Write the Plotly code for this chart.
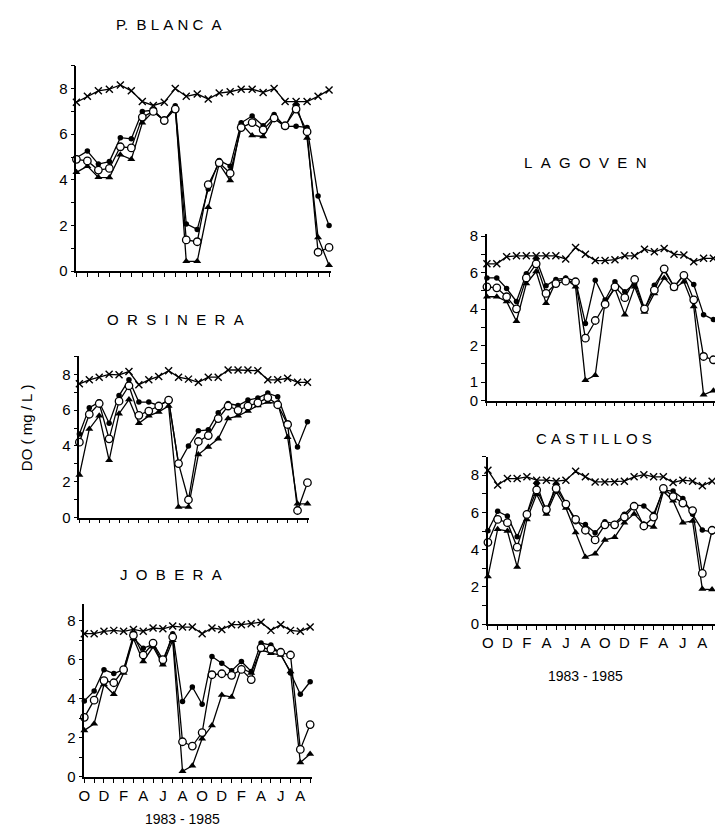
import plotly.graph_objects as go

W, H = 715, 836

# Month index 0..23 = Oct 1983 .. Sep 1985
months = list(range(24))
month_labels = ["O", "", "D", "", "F", "", "A", "", "J", "", "A", "",
                "O", "", "D", "", "F", "", "A", "", "J", "", "A", ""]

# ---------------- P. BLANCA ----------------
pb_cross = [7.4, 7.66, 7.9, 7.97, 8.16, 7.9, 7.43, 7.26, 7.4, 8.0, 7.66, 7.76,
            7.54, 7.8, 7.86, 7.97, 7.97, 7.83, 8.0, 7.43, 7.43, 7.43, 7.66, 7.94]
pb_dot = [4.97, 5.26, 4.69, 4.8, 5.85, 5.8, 7.0, 7.05, 6.6, 7.25, 2.07, 1.83,
          3.6, 4.85, 4.6, 6.5, 6.8, 6.37, 6.86, 6.33, 6.35, 6.29, 3.29, 2.0]
pb_open = [4.9, 4.83, 4.43, 4.5, 5.45, 5.4, 6.75, 7.0, 6.6, 7.1, 1.37, 1.29,
           3.79, 4.75, 4.29, 6.29, 6.51, 6.19, 6.71, 6.37, 7.1, 6.11, 0.83, 1.04]
pb_tri = [4.33, 4.6, 4.11, 4.1, 5.1, 4.9, 6.5, 7.0, 6.6, 7.2, 0.43, 0.43,
          2.8, 4.7, 3.97, 6.47, 5.94, 5.9, 6.69, 6.33, 7.3, 5.83, 1.47, 0.26]

# ---------------- ORSINERA ----------------
or_cross = [7.47, 7.69, 7.84, 8.0, 7.97, 8.15, 7.42, 7.69, 7.88, 8.2, 7.84, 7.73,
            7.55, 7.84, 7.84, 8.24, 8.24, 8.24, 8.2, 7.69, 7.69, 7.78, 7.55, 7.55]
or_dot = [4.67, 6.14, 6.45, 5.27, 6.81, 7.69, 6.45, 6.45, 6.26, 6.56, 3.0, 4.0,
          4.85, 4.9, 5.86, 6.37, 6.26, 6.56, 6.68, 6.95, 6.75, 5.25, 3.95, 5.35]
or_open = [4.21, 5.77, 6.37, 4.4, 6.5, 7.36, 5.71, 5.95, 6.23, 6.56, 3.02, 1.0,
           4.25, 4.58, 5.53, 6.23, 5.99, 6.23, 6.41, 6.7, 6.3, 5.2, 0.4, 1.95]
or_tri = [2.38, 4.95, 5.68, 3.2, 5.8, 6.59, 5.27, 5.68, 5.9, 6.23, 0.59, 0.59,
          3.52, 3.94, 4.4, 5.53, 5.68, 5.95, 6.26, 6.45, 6.37, 4.49, 0.77, 0.77]

# ---------------- JOBERA ----------------
jo_cross = [7.33, 7.33, 7.45, 7.5, 7.45, 7.55, 7.45, 7.62, 7.58, 7.72, 7.67, 7.67,
            7.33, 7.62, 7.55, 7.79, 7.79, 7.84, 7.92, 7.5, 7.79, 7.5, 7.45, 7.67]
jo_dot = [3.89, 4.4, 5.49, 5.29, 5.49, 7.11, 6.58, 6.78, 5.82, 7.33, 3.86, 4.6,
          3.72, 6.16, 5.82, 5.44, 5.91, 5.4, 6.85, 6.75, 6.3, 5.32, 4.23, 4.87]
jo_open = [3.05, 3.93, 4.93, 4.82, 5.49, 7.25, 6.24, 6.85, 6.0, 7.16, 1.8, 1.58,
           2.27, 5.23, 5.28, 5.2, 5.5, 4.98, 6.61, 6.54, 6.38, 6.24, 1.41, 2.68]
jo_tri = [2.38, 2.72, 4.73, 4.23, 5.32, 7.08, 5.91, 6.66, 5.74, 7.0, 0.29, 0.57,
          1.96, 2.63, 4.19, 4.09, 5.57, 5.32, 6.5, 6.33, 6.24, 5.4, 0.74, 1.17]

# ---------------- LAGOVEN (axis as drawn: label "1" sits at the 0 line) ----------------
lg_cross = [6.48, 6.48, 6.87, 6.92, 6.92, 6.92, 6.92, 6.92, 6.75, 7.37, 7.01, 6.66,
            6.66, 6.71, 6.92, 6.92, 7.28, 7.14, 7.32, 7.01, 6.96, 6.6, 6.78, 6.78]
lg_dot = [5.71, 5.71, 5.13, 4.42, 5.94, 6.75, 5.28, 5.63, 5.7, 5.55, 3.22, 5.58,
          4.5, 5.5, 4.95, 5.4, 3.97, 5.31, 6.12, 5.22, 5.89, 5.35, 3.7, 3.43]
lg_open = [5.22, 5.17, 4.68, 4.02, 5.71, 6.48, 4.86, 5.4, 5.53, 5.5, 2.41, 3.38,
           4.27, 5.22, 4.63, 5.63, 4.02, 5.04, 6.21, 5.22, 5.85, 4.51, 1.41, 1.23]
lg_tri = [4.68, 4.68, 4.42, 3.34, 5.4, 6.06, 4.33, 5.5, 5.67, 5.22, 0.11, 0.38,
          4.42, 5.13, 3.7, 5.22, 3.84, 4.86, 5.71, 5.13, 5.5, 4.15, -0.69, -0.46]

# ---------------- CASTILLOS ----------------
ca_cross = [8.26, 7.47, 7.82, 7.82, 7.91, 7.73, 7.73, 7.68, 7.73, 8.21, 7.91, 7.64,
            7.64, 7.64, 7.68, 7.91, 8.03, 7.91, 7.91, 7.61, 7.73, 7.68, 7.43, 7.68]
ca_dot = [5.01, 6.06, 5.8, 4.69, 5.92, 7.56, 5.98, 7.5, 6.5, 5.5, 5.35, 4.9,
          5.5, 5.4, 5.9, 6.4, 6.35, 5.9, 7.2, 7.15, 6.75, 5.9, 5.05, 4.95]
ca_open = [4.39, 5.62, 5.45, 4.13, 5.89, 7.21, 6.15, 7.29, 6.45, 5.62, 5.04, 4.52,
           5.33, 5.33, 5.75, 6.33, 5.27, 5.75, 7.29, 6.85, 6.5, 6.1, 2.72, 5.04]
ca_tri = [2.55, 5.1, 5.0, 3.07, 5.62, 6.98, 5.92, 7.12, 6.24, 4.92, 3.6, 3.78,
          4.52, 4.66, 5.45, 5.92, 5.36, 5.22, 7.12, 6.63, 5.45, 5.54, 1.88, 1.85]

titles = ["P.\u00a0\u00a0B\u00a0L\u00a0A\u00a0N\u00a0C\u00a0\u00a0A",
          "O\u00a0\u00a0R\u00a0\u00a0S\u00a0\u00a0I\u00a0\u00a0N\u00a0\u00a0E\u00a0\u00a0R\u00a0\u00a0A",
          "J\u00a0\u00a0O\u00a0\u00a0B\u00a0\u00a0E\u00a0\u00a0R\u00a0\u00a0A",
          "L\u00a0\u00a0A\u00a0\u00a0G\u00a0\u00a0O\u00a0\u00a0V\u00a0\u00a0E\u00a0\u00a0N",
          "C\u00a0A\u00a0S\u00a0T\u00a0I\u00a0L\u00a0L\u00a0O\u00a0S"]

FONT = "Liberation Sans, Arial, sans-serif"

panels = [
    dict(data=(pb_cross, pb_dot, pb_open, pb_tri), px=(71, 328), py=(59.8, 269), xr=23.2, yr=(0, 9)),
    dict(data=(or_cross, or_dot, or_open, or_tri), px=(74, 306), py=(355.75, 520), xr=23.2, yr=(0, 9)),
    dict(data=(jo_cross, jo_dot, jo_open, jo_tri), px=(79, 308.7), py=(607.9, 784), xr=23.2, yr=(0, 8.85)),
    dict(data=(lg_cross, lg_dot, lg_open, lg_tri), px=(485, 715), py=(231.4, 400.7), xr=23.16, yr=(-1, 8.1)),
    dict(data=(ca_cross, ca_dot, ca_open, ca_tri), px=(486, 715), py=(457.8, 628.3), xr=23.3, yr=(0, 9)),
]
title_pos = [(164, 18), (171, 318), (166, 578), (584, 158), (593, 439)]

fig = go.Figure()
LW = 1.3
styles = [
    dict(symbol="x-thin", size=7, color="black", line=dict(width=1.4, color="black")),
    dict(symbol="triangle-up", size=7, color="black", line=dict(width=0, color="black")),
    dict(symbol="circle", size=5.5, color="black", line=dict(width=0, color="black")),
    dict(symbol="circle", size=7.5, color="white", line=dict(width=1.3, color="black")),
]

layout_axes = {}
for k, p in enumerate(panels):
    n = k + 1
    xa = "x" if n == 1 else f"x{n}"
    ya = "y" if n == 1 else f"y{n}"
    cross, dot, opn, tri = p["data"]
    order = [cross, tri, dot, opn]
    for series, st in zip(order, styles):
        fig.add_trace(go.Scatter(x=months, y=series, mode="lines+markers",
                                 line=dict(color="black", width=LW),
                                 marker=st, xaxis=xa, yaxis=ya,
                                 cliponaxis=False, showlegend=False,
                                 hoverinfo="skip"))
    bottom = n in (3, 5)
    xaxis = dict(domain=[p["px"][0] / W, min(1.0, p["px"][1] / W)],
                 range=[0, p["xr"]], anchor=ya,
                 showline=True, linecolor="black", linewidth=1.5,
                 showgrid=False, zeroline=False,
                 tickmode="array", tickvals=months,
                 ticktext=month_labels if bottom else [""] * 24,
                 ticks="outside", ticklen=4, tickwidth=1.2, tickcolor="black",
                 tickfont=dict(family=FONT, size=15, color="black"),
                 fixedrange=True)
    if n == 4:
        yv = [-1, 0, 1, 2, 3, 4, 5, 6, 7, 8]
        yt = ["0", "1", "", "2", "", "4", "", "6", "", "8"]
    else:
        top = int(p["yr"][1])
        yv = list(range(0, top + 1))
        yt = [str(v) if v % 2 == 0 and v <= 8 else "" for v in yv]
    yaxis = dict(domain=[1 - p["py"][1] / H, 1 - p["py"][0] / H],
                 range=list(p["yr"]), anchor=xa,
                 showline=True, linecolor="black", linewidth=1.5,
                 showgrid=False, zeroline=False,
                 tickmode="array", tickvals=yv, ticktext=yt,
                 ticks="outside", ticklen=4, tickwidth=1.2, tickcolor="black",
                 tickfont=dict(family=FONT, size=15, color="black"),
                 fixedrange=True)
    layout_axes["xaxis" if n == 1 else f"xaxis{n}"] = xaxis
    layout_axes["yaxis" if n == 1 else f"yaxis{n}"] = yaxis

annotations = []
for t, (tx, ty) in zip(titles, title_pos):
    annotations.append(dict(text=t, x=tx / W, y=1 - ty / H, xref="paper", yref="paper",
                            showarrow=False, xanchor="center", yanchor="middle",
                            font=dict(family=FONT, size=15, color="black")))
annotations.append(dict(text="DO\u00a0(\u00a0mg\u00a0/\u00a0L\u00a0)", x=20 / W, y=1 - 428 / H,
                        xref="paper", yref="paper", showarrow=False, textangle=-90,
                        xanchor="center", yanchor="middle",
                        font=dict(family=FONT, size=15, color="black")))
for (tx, ty) in [(178, 827), (584, 681)]:
    annotations.append(dict(text="1983\u00a0-\u00a01985", x=tx / W, y=1 - ty / H,
                            xref="paper", yref="paper", showarrow=False,
                            xanchor="center", yanchor="middle",
                            font=dict(family=FONT, size=14, color="black")))

fig.update_layout(width=W, height=H, margin=dict(l=0, r=0, t=0, b=0),
                  paper_bgcolor="white", plot_bgcolor="white",
                  showlegend=False, annotations=annotations, **layout_axes)

fig.write_html("out.html", config={"displayModeBar": False})
